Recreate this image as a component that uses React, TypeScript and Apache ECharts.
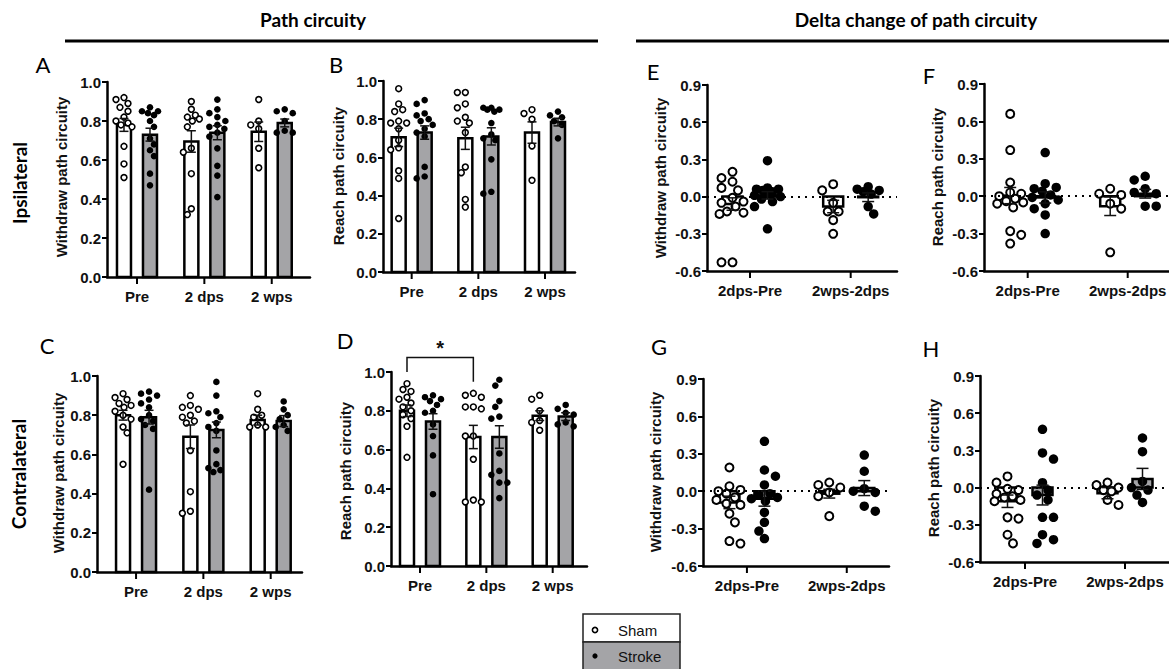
import React, { useEffect, useRef } from "react";
import * as echarts from "echarts";

// ---------------- categories ----------------
const timeCats = ["Pre", "2 dps", "2 wps"];
const deltaCats = ["2dps-Pre", "2wps-2dps"];
const groupNames = ["Sham", "Stroke"];

// ---------------- A: Ipsilateral withdraw ----------------
const A_sham = [
  [0.92, 0.91, 0.89, 0.87, 0.85, 0.82, 0.8, 0.79, 0.78, 0.77, 0.67, 0.58, 0.51],
  [0.9, 0.86, 0.83, 0.82, 0.81, 0.8, 0.77, 0.66, 0.64, 0.53, 0.35, 0.32],
  [0.91, 0.8, 0.78, 0.76, 0.66, 0.56],
];
const A_stroke = [
  [0.87, 0.85, 0.85, 0.84, 0.83, 0.8, 0.77, 0.71, 0.68, 0.65, 0.62, 0.53, 0.47],
  [0.91, 0.86, 0.84, 0.82, 0.8, 0.78, 0.77, 0.76, 0.74, 0.72, 0.66, 0.57, 0.52, 0.41],
  [0.86, 0.85, 0.84, 0.8, 0.75, 0.74, 0.74],
];
const A_shamMean = [0.78, 0.695, 0.745];
const A_shamSem = [0.033, 0.055, 0.05];
const A_strokeMean = [0.73, 0.74, 0.79];
const A_strokeSem = [0.033, 0.036, 0.02];

// ---------------- B: Ipsilateral reach ----------------
const B_sham = [
  [0.96, 0.88, 0.85, 0.84, 0.79, 0.78, 0.78, 0.75, 0.69, 0.65, 0.64, 0.53, 0.49, 0.28],
  [0.94, 0.94, 0.88, 0.86, 0.81, 0.79, 0.78, 0.73, 0.55, 0.52, 0.38, 0.34],
  [0.85, 0.83, 0.8, 0.66, 0.48],
];
const B_stroke = [
  [0.9, 0.88, 0.83, 0.82, 0.8, 0.79, 0.77, 0.75, 0.73, 0.71, 0.55, 0.5, 0.49],
  [0.86, 0.86, 0.85, 0.85, 0.84, 0.78, 0.72, 0.7, 0.69, 0.59, 0.42, 0.41],
  [0.84, 0.82, 0.81, 0.79, 0.77, 0.7],
];
const B_shamMean = [0.705, 0.7, 0.73];
const B_shamSem = [0.048, 0.058, 0.056];
const B_strokeMean = [0.73, 0.71, 0.785];
const B_strokeSem = [0.035, 0.045, 0.02];

// ---------------- C: Contralateral withdraw ----------------
const C_sham = [
  [0.91, 0.89, 0.88, 0.86, 0.85, 0.84, 0.82, 0.8, 0.78, 0.74, 0.71, 0.55],
  [0.9, 0.85, 0.84, 0.83, 0.8, 0.79, 0.77, 0.76, 0.62, 0.41, 0.31, 0.3],
  [0.91, 0.83, 0.8, 0.79, 0.75, 0.74, 0.74],
];
const C_stroke = [
  [0.92, 0.91, 0.9, 0.88, 0.86, 0.84, 0.8, 0.78, 0.77, 0.75, 0.73, 0.42],
  [0.97, 0.9, 0.82, 0.81, 0.79, 0.76, 0.74, 0.72, 0.62, 0.55, 0.53, 0.52, 0.51],
  [0.87, 0.83, 0.8, 0.78, 0.75, 0.74, 0.72],
];
const C_shamMean = [0.8, 0.69, 0.775];
const C_shamSem = [0.025, 0.06, 0.025];
const C_strokeMean = [0.79, 0.725, 0.77];
const C_strokeSem = [0.035, 0.04, 0.028];

// ---------------- D: Contralateral reach ----------------
const D_sham = [
  [0.94, 0.91, 0.9, 0.87, 0.86, 0.84, 0.82, 0.8, 0.78, 0.76, 0.72, 0.56],
  [0.89, 0.88, 0.87, 0.82, 0.82, 0.81, 0.67, 0.67, 0.55, 0.34, 0.33, 0.33],
  [0.88, 0.86, 0.8, 0.75, 0.74, 0.7],
];
const D_stroke = [
  [0.88, 0.87, 0.86, 0.85, 0.83, 0.8, 0.79, 0.73, 0.67, 0.57, 0.37],
  [0.96, 0.93, 0.85, 0.82, 0.77, 0.76, 0.58, 0.49, 0.47, 0.43, 0.43, 0.35],
  [0.83, 0.81, 0.79, 0.78, 0.74, 0.73, 0.72],
];
const D_shamMean = [0.8, 0.665, 0.775];
const D_shamSem = [0.03, 0.06, 0.025];
const D_strokeMean = [0.745, 0.665, 0.77];
const D_strokeSem = [0.04, 0.058, 0.02];
const D_sig = { from: 0, to: 1, top: 1.075, leftEnd: 1.0, rightEnd: 0.95, label: "*" };

// ---------------- E: Ipsilateral withdraw delta ----------------
const E_sham = [
  [0.2, 0.15, 0.12, 0.07, 0.05, -0.01, -0.04, -0.05, -0.08, -0.12, -0.13, -0.14, -0.53, -0.53],
  [0.1, 0.05, -0.05, -0.12, -0.12, -0.19, -0.3],
];
const E_stroke = [
  [0.29, 0.06, 0.06, 0.07, 0.05, 0.04, 0.02, 0.01, 0.0, -0.02, -0.04, -0.08, -0.26],
  [0.08, 0.06, 0.05, 0.04, 0.02, -0.08, -0.14],
];
const E_shamMean = [-0.06, -0.08];
const E_shamSem = [0.05, 0.05];
const E_strokeMean = [0.01, -0.005];
const E_strokeSem = [0.03, 0.035];

// ---------------- F: Ipsilateral reach delta ----------------
const F_sham = [
  [0.66, 0.37, 0.11, 0.03, 0.02, 0.0, -0.02, -0.04, -0.05, -0.06, -0.09, -0.28, -0.31, -0.38],
  [0.06, 0.02, 0.01, -0.06, -0.1, -0.45],
];
const F_stroke = [
  [0.35, 0.1, 0.07, 0.06, 0.04, 0.01, -0.01, -0.03, -0.06, -0.1, -0.15, -0.3],
  [0.16, 0.13, 0.06, 0.03, 0.02, -0.08, -0.08],
];
const F_shamMean = [0.005, -0.08];
const F_shamSem = [0.065, 0.075];
const F_strokeMean = [-0.01, 0.02];
const F_strokeSem = [0.045, 0.035];

// ---------------- G: Contralateral withdraw delta ----------------
const G_sham = [
  [0.19, 0.04, 0.01, 0.0, -0.02, -0.05, -0.07, -0.1, -0.11, -0.18, -0.25, -0.4, -0.42],
  [0.07, 0.05, 0.03, -0.01, -0.04, -0.2],
];
const G_stroke = [
  [0.4, 0.17, 0.12, 0.05, -0.02, -0.03, -0.05, -0.06, -0.08, -0.17, -0.25, -0.32, -0.38],
  [0.29, 0.16, 0.02, 0.0, -0.01, -0.12, -0.16],
];
const G_shamMean = [-0.09, -0.02];
const G_shamSem = [0.05, 0.035];
const G_strokeMean = [-0.06, 0.025];
const G_strokeSem = [0.06, 0.06];

// ---------------- H: Contralateral reach delta ----------------
const H_sham = [
  [0.09, 0.04, -0.01, -0.02, -0.05, -0.07, -0.08, -0.1, -0.11, -0.24, -0.25, -0.38, -0.45],
  [0.04, 0.02, 0.0, -0.02, -0.03, -0.1, -0.14],
];
const H_stroke = [
  [0.47, 0.28, 0.23, 0.04, -0.02, -0.06, -0.1, -0.24, -0.24, -0.38, -0.42, -0.45],
  [0.4, 0.29, 0.05, 0.0, -0.02, -0.06, -0.12],
];
const H_shamMean = [-0.11, -0.045];
const H_shamSem = [0.05, 0.045];
const H_strokeMean = [-0.06, 0.07];
const H_strokeSem = [0.08, 0.085];

// ---------------- layout & style ----------------
const GRAY = "#a4a4a7";
const TICK_FONT = '"Liberation Sans", Arial, Helvetica, sans-serif';
const HEAD_FONT = 'Lato, "Open Sans", "Noto Sans", sans-serif';

type Panel = {
  letter: string;
  kind: "bar" | "delta";
  cats: string[];
  sham: number[][];
  stroke: number[][];
  shamMean: number[];
  shamSem: number[];
  strokeMean: number[];
  strokeSem: number[];
  yTitle: string;
  box: { left: number; top: number; width: number; height: number; xMin: number; xMax: number };
  titlePos: [number, number];
  letterPos: [number, number];
};

const panels: Panel[] = [
  {
    letter: "A", kind: "bar", cats: timeCats, sham: A_sham, stroke: A_stroke,
    shamMean: A_shamMean, shamSem: A_shamSem, strokeMean: A_strokeMean, strokeSem: A_strokeSem,
    yTitle: "Withdraw path circuity",
    box: { left: 107, top: 82, width: 203, height: 195, xMin: -0.445, xMax: 2.568 },
    titlePos: [61, 177], letterPos: [43, 64],
  },
  {
    letter: "B", kind: "bar", cats: timeCats, sham: B_sham, stroke: B_stroke,
    shamMean: B_shamMean, shamSem: B_shamSem, strokeMean: B_strokeMean, strokeSem: B_strokeSem,
    yTitle: "Reach path circuity",
    box: { left: 383, top: 81, width: 192, height: 191, xMin: -0.43, xMax: 2.45 },
    titlePos: [338, 176], letterPos: [336, 64],
  },
  {
    letter: "C", kind: "bar", cats: timeCats, sham: C_sham, stroke: C_stroke,
    shamMean: C_shamMean, shamSem: C_shamSem, strokeMean: C_strokeMean, strokeSem: C_strokeSem,
    yTitle: "Withdraw path circuity",
    box: { left: 97, top: 376, width: 205, height: 196, xMin: -0.58, xMax: 2.465 },
    titlePos: [58, 473], letterPos: [47, 345],
  },
  {
    letter: "D", kind: "bar", cats: timeCats, sham: D_sham, stroke: D_stroke,
    shamMean: D_shamMean, shamSem: D_shamSem, strokeMean: D_strokeMean, strokeSem: D_strokeSem,
    yTitle: "Reach path circuity",
    box: { left: 391, top: 372, width: 196, height: 194, xMin: -0.437, xMax: 2.517 },
    titlePos: [345, 471], letterPos: [345, 340],
  },
  {
    letter: "E", kind: "delta", cats: deltaCats, sham: E_sham, stroke: E_stroke,
    shamMean: E_shamMean, shamSem: E_shamSem, strokeMean: E_strokeMean, strokeSem: E_strokeSem,
    yTitle: "Withdraw path circuity",
    box: { left: 707, top: 85, width: 190, height: 186, xMin: -0.427, xMax: 1.46 },
    titlePos: [660, 178], letterPos: [653, 71],
  },
  {
    letter: "F", kind: "delta", cats: deltaCats, sham: F_sham, stroke: F_stroke,
    shamMean: F_shamMean, shamSem: F_shamSem, strokeMean: F_strokeMean, strokeSem: F_strokeSem,
    yTitle: "Reach path circuity",
    box: { left: 984, top: 84, width: 185, height: 187, xMin: -0.437, xMax: 1.413 },
    titlePos: [937, 177], letterPos: [929, 75],
  },
  {
    letter: "G", kind: "delta", cats: deltaCats, sham: G_sham, stroke: G_stroke,
    shamMean: G_shamMean, shamSem: G_shamSem, strokeMean: G_strokeMean, strokeSem: G_strokeSem,
    yTitle: "Withdraw path circuity",
    box: { left: 703, top: 379, width: 186, height: 187, xMin: -0.44, xMax: 1.423 },
    titlePos: [655, 472], letterPos: [659, 346],
  },
  {
    letter: "H", kind: "delta", cats: deltaCats, sham: H_sham, stroke: H_stroke,
    shamMean: H_shamMean, shamSem: H_shamSem, strokeMean: H_strokeMean, strokeSem: H_strokeSem,
    yTitle: "Reach path circuity",
    box: { left: 980, top: 376, width: 189, height: 186, xMin: -0.45, xMax: 1.44 },
    titlePos: [933, 468], letterPos: [931, 348],
  },
];

// simple beeswarm: returns pixel x offsets for each value
function swarm(vals: number[], pxY: number, diam: number, maxHalf: number): number[] {
  const order = vals.map((_, i) => i).sort((a, b) => vals[b] - vals[a]);
  const placed: { x: number; y: number }[] = [];
  const out: number[] = new Array(vals.length).fill(0);
  const step = diam * 0.55;
  let flip = 1;
  for (const i of order) {
    const y = vals[i] * pxY;
    let chosen = 0;
    let found = false;
    for (let k = 0; k < 16; k++) {
      const mag = Math.ceil(k / 2) * step;
      const cand = k === 0 ? 0 : (k % 2 === 1 ? flip * mag : -flip * mag);
      if (Math.abs(cand) > maxHalf) break;
      if (placed.every((q) => Math.hypot(q.x - cand, q.y - y) >= diam * 0.92)) {
        chosen = cand;
        found = true;
        break;
      }
    }
    if (!found) {
      let best = 0;
      let bestD = -1;
      for (let c = -maxHalf; c <= maxHalf; c += 1) {
        const d = Math.min(...placed.map((q) => Math.hypot(q.x - c, q.y - y)));
        if (d > bestD) {
          bestD = d;
          best = c;
        }
      }
      chosen = best;
    }
    flip = -flip;
    placed.push({ x: chosen, y });
    out[i] = chosen;
  }
  return out;
}

const fmt = (v: number) => (Math.abs(v) < 1e-9 ? "0.0" : v.toFixed(1));

function buildOption() {
  const grid: any[] = [];
  const xAxis: any[] = [];
  const yAxis: any[] = [];
  const series: any[] = [];
  const graphic: any[] = [];

  panels.forEach((p, gi) => {
    const isBar = p.kind === "bar";
    const yMin = isBar ? 0 : -0.6;
    const yMax = isBar ? 1 : 0.9;
    const yInt = isBar ? 0.2 : 0.3;
    const b = p.box;
    grid.push({ left: b.left, top: b.top, width: b.width, height: b.height, containLabel: false, outerBoundsMode: "none" });
    xAxis.push({
      type: "value", gridIndex: gi, min: b.xMin, max: b.xMax,
      axisLine: { show: true, onZero: false, lineStyle: { color: "#000", width: 2.5 } },
      axisTick: { show: false }, axisLabel: { show: false }, splitLine: { show: false },
    });
    yAxis.push({
      type: "value", gridIndex: gi, min: yMin, max: yMax, interval: yInt,
      axisLine: { show: true, onZero: false, lineStyle: { color: "#000", width: 2.5 } },
      axisTick: { show: true, length: 5, lineStyle: { color: "#000", width: 2 } },
      axisLabel: { color: "#111", fontSize: 15, fontWeight: "bold", fontFamily: TICK_FONT, margin: 6, formatter: fmt },
      splitLine: { show: false },
    });

    const pxX = b.width / (b.xMax - b.xMin);
    const pxY = b.height / (yMax - yMin);
    const off = (isBar ? 13 : 17.5) / pxX;
    const half = (isBar ? 7 : 10) / pxX;
    const cap = (isBar ? 4.5 : 6) / pxX;
    const diam = isBar ? 7.3 : 10;
    const spread = isBar ? 8 : 13;
    const common = { xAxisIndex: gi, yAxisIndex: gi, silent: true };

    // bars (mean)
    series.push({
      ...common, type: "custom", clip: false, z: 2,
      data: [
        ...p.shamMean.map((m, c) => [c - off, m, 0]),
        ...p.strokeMean.map((m, c) => [c + off, m, 1]),
      ],
      renderItem: (_: any, api: any) => {
        const x = api.value(0);
        const m = api.value(1);
        const g = api.value(2);
        const a = api.coord([x - half, 0]);
        const e = api.coord([x + half, m]);
        return {
          type: "rect",
          shape: { x: a[0], y: Math.min(a[1], e[1]), width: e[0] - a[0], height: Math.abs(e[1] - a[1]) },
          style: { fill: g ? GRAY : "#fff", stroke: "#000", lineWidth: 2.5 },
        };
      },
    });

    // dots
    const dots = (groups: number[][], sign: number) =>
      groups.flatMap((vals, c) => {
        const j = swarm(vals, pxY, diam, spread);
        return vals.map((v, i) => [c + sign * off + j[i] / pxX, v]);
      });
    series.push({
      ...common, type: "scatter", name: groupNames[0], z: 3, symbol: "circle",
      symbolSize: isBar ? 5.8 : 8, clip: false,
      data: dots(p.sham, -1),
      itemStyle: { color: "#fff", borderColor: "#000", borderWidth: isBar ? 1.6 : 2, opacity: 1 },
      markLine: isBar
        ? undefined
        : {
            silent: true, symbol: ["none", "none"], label: { show: false },
            lineStyle: { color: "#000", width: 2, type: [2, 5] },
            data: [{ yAxis: 0 }],
          },
    });
    series.push({
      ...common, type: "scatter", name: groupNames[1], z: 3, symbol: "circle",
      symbolSize: isBar ? 6.6 : 9.5, clip: false,
      data: dots(p.stroke, 1),
      itemStyle: { color: "#000", opacity: 1 },
    });

    // error bars
    series.push({
      ...common, type: "custom", clip: false, z: 4,
      data: [
        ...p.shamMean.map((m, c) => [c - off, m, p.shamSem[c]]),
        ...p.strokeMean.map((m, c) => [c + off, m, p.strokeSem[c]]),
      ],
      renderItem: (_: any, api: any) => {
        const x = api.value(0);
        const m = api.value(1);
        const s = api.value(2);
        const t = api.coord([x, m + s]);
        const bt = api.coord([x, m - s]);
        const l1 = api.coord([x - cap, m + s]);
        const r1 = api.coord([x + cap, m + s]);
        const l2 = api.coord([x - cap, m - s]);
        const r2 = api.coord([x + cap, m - s]);
        const st = { stroke: "#111", lineWidth: 1.5 };
        return {
          type: "group",
          children: [
            { type: "line", shape: { x1: t[0], y1: t[1], x2: bt[0], y2: bt[1] }, style: st },
            { type: "line", shape: { x1: l1[0], y1: l1[1], x2: r1[0], y2: r1[1] }, style: st },
            { type: "line", shape: { x1: l2[0], y1: l2[1], x2: r2[0], y2: r2[1] }, style: st },
          ],
        };
      },
    });

    // category ticks and labels
    series.push({
      ...common, type: "custom", clip: false, z: 5,
      data: p.cats.map((_, c) => [c, yMin]),
      renderItem: (params: any, api: any) => {
        const pt = api.coord([api.value(0), api.value(1)]);
        return {
          type: "group",
          children: [
            { type: "line", shape: { x1: pt[0], y1: pt[1], x2: pt[0], y2: pt[1] + 7 }, style: { stroke: "#000", lineWidth: 2 } },
            {
              type: "text", x: pt[0], y: pt[1] + 19,
              style: {
                text: p.cats[params.dataIndex], fill: "#111", fontSize: 15, fontWeight: "bold",
                fontFamily: TICK_FONT, align: "center", verticalAlign: "middle",
              },
            },
          ],
        };
      },
    });

    // significance bracket in D
    if (p.letter === "D") {
      series.push({
        ...common, type: "custom", clip: false, z: 5,
        data: [[D_sig.from, D_sig.top]],
        renderItem: (_: any, api: any) => {
          const p1 = api.coord([D_sig.from - off, D_sig.leftEnd]);
          const p2 = api.coord([D_sig.from - off, D_sig.top]);
          const p3 = api.coord([D_sig.to - off, D_sig.top]);
          const p4 = api.coord([D_sig.to - off, D_sig.rightEnd]);
          return {
            type: "group",
            children: [
              { type: "polyline", shape: { points: [p1, p2, p3, p4] }, style: { stroke: "#111", lineWidth: 1.5, fill: "none" } },
              {
                type: "text", x: (p2[0] + p3[0]) / 2, y: p2[1] - 9,
                style: { text: D_sig.label, fill: "#111", fontSize: 20, fontWeight: "bold", fontFamily: TICK_FONT, align: "center", verticalAlign: "middle" },
              },
            ],
          };
        },
      });
    }

    // y title
    graphic.push({
      type: "text", x: p.titlePos[0], y: p.titlePos[1], rotation: Math.PI / 2,
      style: {
        text: p.yTitle, fill: "#111", fontSize: 15, fontWeight: "bold", fontFamily: TICK_FONT,
        textAlign: "center", textVerticalAlign: "middle", align: "center", verticalAlign: "middle",
      },
    });
    // panel letter
    graphic.push({
      type: "text", x: p.letterPos[0], y: p.letterPos[1],
      style: {
        text: p.letter, fill: "#000", fontSize: 22, fontFamily: HEAD_FONT,
        textAlign: "center", textVerticalAlign: "middle", align: "center", verticalAlign: "middle",
      },
    });
  });

  // headers
  const head = (text: string, x: number) => ({
    type: "text", x, y: 19,
    style: {
      text, fill: "#000", fontSize: 19, fontWeight: "bold", fontFamily: HEAD_FONT,
      textAlign: "center", textVerticalAlign: "middle", align: "center", verticalAlign: "middle",
    },
  });
  graphic.push(head("Path circuity", 313));
  graphic.push(head("Delta change of path circuity", 916));
  graphic.push({ type: "line", shape: { x1: 65, y1: 41, x2: 598, y2: 41 }, style: { stroke: "#000", lineWidth: 3 } });
  graphic.push({ type: "line", shape: { x1: 636, y1: 41, x2: 1169, y2: 41 }, style: { stroke: "#000", lineWidth: 3 } });

  // side labels
  const side = (text: string, x: number, y: number) => ({
    type: "text", x, y, rotation: Math.PI / 2,
    style: {
      text, fill: "#000", fontSize: 19, fontWeight: "bold", fontFamily: HEAD_FONT,
      textAlign: "center", textVerticalAlign: "middle", align: "center", verticalAlign: "middle",
    },
  });
  graphic.push(side("Ipsilateral", 19, 183));
  graphic.push(side("Contralateral", 18, 474));

  // legend box
  graphic.push({ type: "rect", shape: { x: 583, y: 614, width: 97, height: 28 }, style: { fill: "#fff", stroke: "#222", lineWidth: 1.5 } });
  graphic.push({ type: "rect", shape: { x: 583, y: 642, width: 97, height: 30 }, style: { fill: GRAY, stroke: "#222", lineWidth: 1.5 } });
  graphic.push({ type: "circle", shape: { cx: 595, cy: 630, r: 2.6 }, style: { fill: "#fff", stroke: "#000", lineWidth: 1.6 } });
  graphic.push({ type: "circle", shape: { cx: 595, cy: 656, r: 2.6 }, style: { fill: "#000" } });
  const legText = (text: string, y: number) => ({
    type: "text", x: 618, y,
    style: {
      text, fill: "#111", fontSize: 15, fontFamily: TICK_FONT,
      textAlign: "left", textVerticalAlign: "middle", align: "left", verticalAlign: "middle",
    },
  });
  graphic.push(legText(groupNames[0], 630));
  graphic.push(legText(groupNames[1], 656));

  return {
    animation: false,
    backgroundColor: "#fff",
    grid,
    xAxis,
    yAxis,
    series,
    graphic: { elements: graphic },
  };
}

export default function App() {
  const ref = useRef<HTMLDivElement>(null);
  useEffect(() => {
    if (!ref.current) return;
    const chart = echarts.init(ref.current, undefined, { renderer: "svg" });
    chart.setOption(buildOption() as any);
    return () => chart.dispose();
  }, []);
  return (
    <div
      ref={ref}
      style={{ position: "fixed", left: 0, top: 0, width: 1169, height: 669, background: "#fff" }}
    />
  );
}
